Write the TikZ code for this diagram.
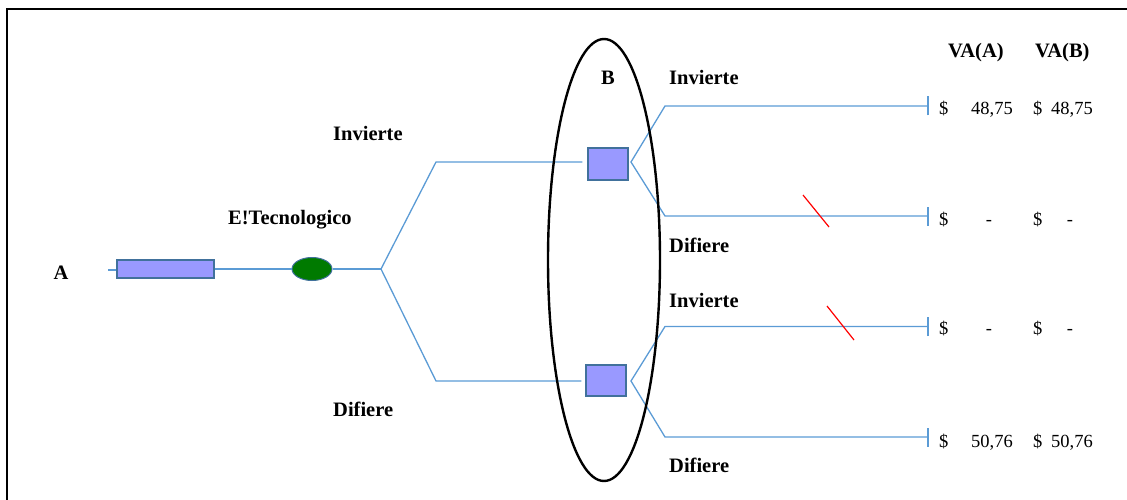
\documentclass[tikz,border=0pt]{standalone}
\usepackage{fontspec}
\setmainfont{Liberation Serif}
\usetikzlibrary{shapes.geometric}
\definecolor{lnblue}{HTML}{5B9BD5}
\definecolor{boxfill}{HTML}{9999FF}
\definecolor{boxedge}{HTML}{41719C}
\definecolor{nodegreen}{HTML}{007A00}
\begin{document}
\begin{tikzpicture}[x=1pt,y=-1pt,
  branch/.style={draw=lnblue,line width=1.3pt},
  tickline/.style={draw=lnblue,line width=2pt},
  cut/.style={draw=red,line width=1.2pt},
  boxnode/.style={draw=boxedge,fill=boxfill,line width=1.2pt,rectangle,inner sep=0pt},
  chance/.style={draw=boxedge,fill=nodegreen,line width=1pt,ellipse,inner sep=0pt,minimum width=40pt,minimum height=23pt},
  lbl/.style={inner sep=0pt,font=\fontsize{20.5}{24}\selectfont\bfseries},
  val/.style={inner sep=0pt,font=\fontsize{18.5}{22}\selectfont}]
\useasboundingbox (0,0) rectangle (1127,500);
% frame
\draw[line width=2pt] (7,500) -- (7,9) -- (1127,9);
% nodes
\node[boxnode,minimum width=97pt,minimum height=18pt] (r1) at (165.5,269) {};
\node[chance] (e1) at (312,269) {};
\node[boxnode,minimum width=40pt,minimum height=32pt] (s1) at (608,164) {};
\node[boxnode,minimum width=40pt,minimum height=31pt] (s2) at (606,380.5) {};
\coordinate (a0) at (108,270);
\coordinate (j1) at (381,269);
\coordinate (k1) at (436,162);
\coordinate (k2) at (436,381);
\coordinate (m1) at (631,162);
\coordinate (m2) at (631,381);
\coordinate (u1) at (665,106);
\coordinate (u2) at (665,216);
\coordinate (u3) at (665,326.5);
\coordinate (u4) at (665,437);
\coordinate (t1) at (928,106);
\coordinate (t2) at (928,216);
\coordinate (t3) at (928,326.5);
\coordinate (t4) at (928,437);
% connectors
\draw[branch] (a0) -- (a0 -| r1.west);
\draw[branch] (r1.east) -- (e1.west);
\draw[branch] (e1.east) -- (j1);
\draw[branch,shorten >=5pt] (j1) -- (k1) -- (k1 -| s1.west);
\draw[branch,shorten >=4pt] (j1) -- (k2) -- (k2 -| s2.west);
\draw[branch] (t1) -- (u1) -- (m1) -- (u2) -- (t2);
\draw[branch] (t3) -- (u3) -- (m2) -- (u4) -- (t4);
\foreach \t in {t1,t2,t3,t4}{\draw[tickline] ([yshift=-9.5pt]\t) -- ([yshift=9.5pt]\t);}
% cut marks
\coordinate (c1a) at (803,195); \coordinate (c1b) at (829,227);
\coordinate (c2a) at (827,306); \coordinate (c2b) at (854,340);
\draw[cut] (c1a) -- (c1b);
\draw[cut] (c2a) -- (c2b);
% ellipse B
\draw[line width=2.4pt] (604,260) ellipse [x radius=56, y radius=221];
% labels
\node[lbl,anchor=base] (lA) at (61,279) {A};
\node[lbl,anchor=base west] (lInv1) at (333,141) {Invierte};
\node[lbl,anchor=base west] (lET) at (228,224) {E!Tecnologico};
\node[lbl,anchor=base west] (lDif1) at (333,416) {Difiere};
\node[lbl,anchor=base west] (lB) at (601,85) {B};
\node[lbl,anchor=base west] (lInv2) at (669,85) {Invierte};
\node[lbl,anchor=base west] (lDif2) at (669,252) {Difiere};
\node[lbl,anchor=base west] (lInv3) at (669,307) {Invierte};
\node[lbl,anchor=base west] (lDif3) at (669,472) {Difiere};
\node[lbl,anchor=base west] (hA) at (948,58) {VA(A)};
\node[lbl,anchor=base west] (hB) at (1035,58) {VA(B)};
% values
\node[val,anchor=base west] (d1a) at (939,115) {\$};
\node[val,anchor=base east] (v1a) at (1013,115) {48,75};
\node[val,anchor=base west] (d1b) at (1033,115) {\$};
\node[val,anchor=base east] (v1b) at (1093,115) {48,75};
\node[val,anchor=base west] (d2a) at (939,225) {\$};
\node[val,anchor=base] (v2a) at (989,225) {-};
\node[val,anchor=base west] (d2b) at (1033,225) {\$};
\node[val,anchor=base] (v2b) at (1070,225) {-};
\node[val,anchor=base west] (d3a) at (939,334) {\$};
\node[val,anchor=base] (v3a) at (989,334) {-};
\node[val,anchor=base west] (d3b) at (1033,334) {\$};
\node[val,anchor=base] (v3b) at (1070,334) {-};
\node[val,anchor=base west] (d4a) at (939,447) {\$};
\node[val,anchor=base east] (v4a) at (1013,447) {50,76};
\node[val,anchor=base west] (d4b) at (1033,447) {\$};
\node[val,anchor=base east] (v4b) at (1093,447) {50,76};
\end{tikzpicture}
\end{document}
